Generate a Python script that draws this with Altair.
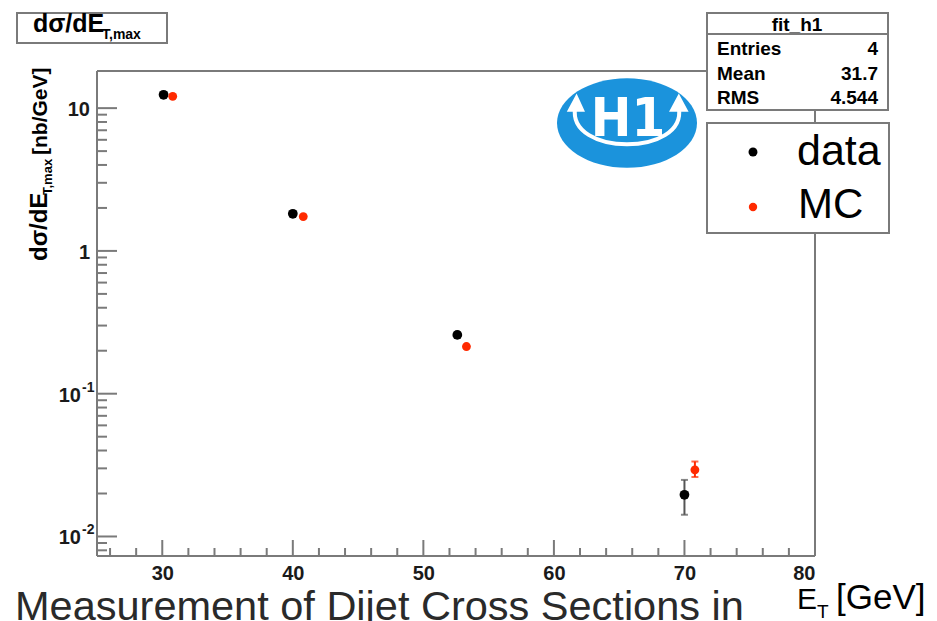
import altair as alt
import pandas as pd

# H1 dijet cross section dσ/dE_T,max versus E_T: data and Monte Carlo
data_et = [30.1, 40.0, 52.6, 70.0]
data_xsec = [12.4, 1.82, 0.258, 0.0196]
data_lo = [12.0, 1.76, 0.246, 0.0142]
data_hi = [12.8, 1.88, 0.270, 0.0249]

mc_et = [30.8, 40.8, 53.3, 70.8]
mc_xsec = [12.1, 1.74, 0.214, 0.0293]
mc_lo = [11.9, 1.71, 0.209, 0.0261]
mc_hi = [12.3, 1.77, 0.219, 0.0335]

# axis divisions and labels
x_major = [30, 40, 50, 60, 70, 80]
x_minor = [v for v in range(26, 80, 2) if v % 10 != 0]
y_major = [0.01, 0.1, 1, 10]
y_label_base = ["10", "10", "1", "10"]
y_label_exp = ["-2", "-1", "", ""]
y_minor = [m * d for d in (0.001, 0.01, 0.1, 1) for m in range(2, 10)]
y_minor = [v for v in y_minor if 0.0073 < v < 18.2]

stats_names = ["Entries", "Mean", "RMS"]
stats_values = ["4", "31.7", "4.544"]

W, H = 718, 485
OX, OY = 97, 71          # plot origin inside the canvas
FRAME = "#7a7a7a"
FONT = "Liberation Sans"
RED = "#ff2a00"
LABEL = "#1a1a1a"

xs = alt.Scale(domain=[25, 80], nice=False, zero=False)
ys = alt.Scale(type="log", domain=[0.0073, 18.2], nice=False)

x_axis = alt.Axis(values=x_major, format="d", ticks=False, tickSize=0, domain=False,
                  grid=False, labelFont=FONT, labelFontWeight="bold", labelFontSize=20,
                  labelColor=LABEL, labelPadding=7, title=None)
y_axis = alt.Axis(values=y_major, ticks=False, tickSize=0, domain=False, grid=False,
                  labels=False, title=None)

one = alt.Data(values=[{"k": 1}])


def px(x):
    return alt.value(x - OX)


def py(y):
    return alt.value(y - OY)


def text(t, x, y, size, weight="normal", align="left", angle=0, color="black",
         font=FONT, baseline="alphabetic"):
    return alt.Chart(one).mark_text(
        text=t, fontSize=size, fontWeight=weight, align=align, angle=angle,
        color=color, font=font, baseline=baseline
    ).encode(x=px(x), y=py(y))


def box(x0, y0, x1, y1):
    return alt.Chart(one).mark_rect(fill="white", stroke=FRAME, strokeWidth=2).encode(
        x=px(x0), x2=px(x1), y=py(y0), y2=py(y1))


def hline(x0, x1, y, color=FRAME, width=2):
    return alt.Chart(one).mark_rule(color=color, strokeWidth=width).encode(
        x=px(x0), x2=px(x1), y=py(y))


def vline(x, y0, y1, color=FRAME, width=2):
    return alt.Chart(one).mark_rule(color=color, strokeWidth=width).encode(
        x=px(x), y=py(y0), y2=py(y1))


data_df = pd.DataFrame({"et": data_et, "xsec": data_xsec, "lo": data_lo, "hi": data_hi})
mc_df = pd.DataFrame({"et": mc_et, "xsec": mc_xsec, "lo": mc_lo, "hi": mc_hi})

X = alt.X("et:Q", scale=xs, axis=x_axis)
Y = alt.Y("xsec:Q", scale=ys, axis=y_axis)


def series(df, color, err_color, size):
    base = alt.Chart(df)
    bar = base.mark_rule(color=err_color, strokeWidth=2).encode(
        x=X, y=alt.Y("lo:Q", scale=ys, axis=y_axis), y2="hi:Q")
    cap_lo = base.mark_tick(color=err_color, orient="horizontal", size=7, thickness=2).encode(
        x=X, y=alt.Y("lo:Q", scale=ys, axis=y_axis))
    cap_hi = base.mark_tick(color=err_color, orient="horizontal", size=7, thickness=2).encode(
        x=X, y=alt.Y("hi:Q", scale=ys, axis=y_axis))
    pts = base.mark_circle(color=color, size=size, opacity=1).encode(x=X, y=Y)
    return [bar, cap_lo, cap_hi, pts]


# frame and inward ticks
frame = [hline(OX, OX + W, OY), hline(OX, OX + W, OY + H),
         vline(OX, OY, OY + H), vline(OX + W, OY, OY + H)]

tick_layers = [
    alt.Chart(pd.DataFrame({"v": y_major})).mark_rule(color=FRAME, strokeWidth=2).encode(
        y=alt.Y("v:Q", scale=ys, axis=y_axis), x=alt.value(0), x2=alt.value(20)),
    alt.Chart(pd.DataFrame({"v": y_minor})).mark_rule(color=FRAME, strokeWidth=2).encode(
        y=alt.Y("v:Q", scale=ys, axis=y_axis), x=alt.value(0), x2=alt.value(10)),
    alt.Chart(pd.DataFrame({"v": x_major})).mark_rule(color=FRAME, strokeWidth=2).encode(
        x=alt.X("v:Q", scale=xs, axis=x_axis), y=alt.value(H), y2=alt.value(H - 16)),
    alt.Chart(pd.DataFrame({"v": x_minor})).mark_rule(color=FRAME, strokeWidth=2).encode(
        x=alt.X("v:Q", scale=xs, axis=x_axis), y=alt.value(H), y2=alt.value(H - 8)),
]

# y tick labels with powers of ten written as base + raised exponent
ylab = alt.Chart(pd.DataFrame({"v": y_major, "base": y_label_base, "exp": y_label_exp}))
ylabel_style = dict(font=FONT, fontWeight="bold", color=LABEL, baseline="middle")
y_labels = [
    ylab.transform_filter("datum.exp == ''").mark_text(
        align="right", fontSize=20, dy=2, **ylabel_style).encode(
        y=alt.Y("v:Q", scale=ys, axis=y_axis), x=px(90), text="base:N"),
    ylab.transform_filter("datum.exp != ''").mark_text(
        align="right", fontSize=20, dy=2, **ylabel_style).encode(
        y=alt.Y("v:Q", scale=ys, axis=y_axis), x=px(81), text="base:N"),
    ylab.transform_filter("datum.exp != ''").mark_text(
        align="left", fontSize=14, dy=-6, **ylabel_style).encode(
        y=alt.Y("v:Q", scale=ys, axis=y_axis), x=px(82), text="exp:N"),
]

# H1 logo
ellipse = "M -1 0 A 1 0.64 0 1 1 1 0 A 1 0.64 0 1 1 -1 0 Z"
swoosh = "M -0.74 -0.22 C -0.86 0.48 0.86 0.48 0.74 -0.22"
heads = ("M -0.86 -0.16 L -0.72 -0.42 L -0.6 -0.16 Z "
         "M 0.6 -0.16 L 0.74 -0.42 L 0.88 -0.16 Z")
logo = [
    alt.Chart(one).mark_point(shape=ellipse, filled=True, color="#1b93dc", size=140 * 140,
                              opacity=1, strokeWidth=0).encode(x=px(627), y=py(123)),
    alt.Chart(one).mark_point(shape=swoosh, filled=False, color="white", size=140 * 140,
                              opacity=1, strokeWidth=4).encode(x=px(627), y=py(123)),
    alt.Chart(one).mark_point(shape=heads, filled=True, color="white", size=140 * 140,
                              opacity=1, strokeWidth=0).encode(x=px(627), y=py(123)),
    text("H1", 628, 120, 54, weight="bold", align="center", color="white",
         font="Liberation Sans Narrow, DejaVu Sans Condensed, Liberation Sans",
         baseline="middle"),
]

# title box
title_box = [
    box(17, 13, 167, 43),
    text("dσ/dE", 33, 32, 25, weight="bold"),
    text("T,max", 102, 39, 14, weight="bold"),
]

# y axis title, rotated
y_title = [
    text("dσ/dE", 47, 261, 24, weight="bold", angle=270),
    text("T,max", 52, 195, 13, weight="bold", angle=270),
    text("[nb/GeV]", 47, 155, 21, weight="bold", angle=270),
]

# statistics box
stats = [box(707, 13, 888, 110), hline(707, 888, 34),
         text("fit_h1", 797, 31, 19, weight="bold", align="center")]
for i, (n, v) in enumerate(zip(stats_names, stats_values)):
    yb = 55 + i * 24.5
    stats.append(text(n, 717, yb, 19, weight="bold"))
    stats.append(text(v, 878, yb, 19, weight="bold", align="right"))

# legend
legend = [
    box(707, 123, 889, 233),
    alt.Chart(one).mark_circle(color="black", size=80, opacity=1).encode(x=px(753), y=py(152)),
    alt.Chart(one).mark_circle(color=RED, size=70, opacity=1).encode(x=px(753), y=py(207)),
    text("data", 797, 165, 43),
    text("MC", 798, 218, 42),
]

# x axis title and caption
bottom = [
    text("E", 797, 609, 30),
    text("T", 817, 618, 19),
    text("[GeV]", 836, 609, 35),
    text("Measurement of Dijet Cross Sections in", 15, 620, 41.5, color="#2a2a2a"),
]

layers = (frame + tick_layers + y_labels + series(data_df, "black", "#555555", 95)
          + series(mc_df, RED, RED, 78) + logo + title_box + y_title + stats
          + legend + bottom)

chart = alt.layer(*layers).properties(
    width=W, height=H,
    padding={"left": OX, "top": OY, "right": 937 - OX - W, "bottom": 621 - OY - H},
    autosize=alt.AutoSizeParams(type="none"),
    background="white",
).configure_view(stroke=None)

chart.save("out.html", embed_options={"renderer": "svg", "actions": False})
